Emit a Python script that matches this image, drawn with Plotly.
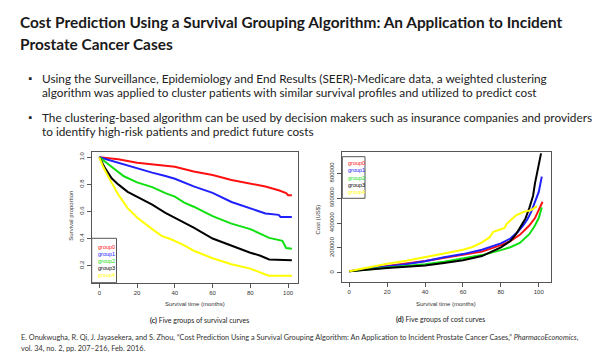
import plotly.graph_objects as go

W, H = 602, 355

# ---------------- data: survival curves (panel c) ----------------
surv_groups = ["group0", "group1", "group2", "group3", "group4"]
surv_colors = ["#ff1010", "#2020ff", "#10e010", "#000000", "#ffff00"]

surv_t_g0 = [0, 5, 10, 20, 30, 40, 50, 60, 70, 80, 88, 95, 99, 100, 102]
surv_v_g0 = [1.0, 0.995, 0.985, 0.96, 0.945, 0.93, 0.895, 0.87, 0.833, 0.808, 0.784, 0.757, 0.735, 0.72, 0.72]

surv_t_g1 = [0, 5, 10, 20, 28, 35, 40, 50, 60, 70, 80, 85, 88, 95, 96, 102]
surv_v_g1 = [1.0, 0.98, 0.956, 0.915, 0.887, 0.862, 0.842, 0.785, 0.737, 0.67, 0.62, 0.60, 0.585, 0.575, 0.56, 0.56]

surv_t_g2 = [0, 3, 8, 13, 20, 28, 35, 40, 45, 50, 60, 70, 80, 90, 97, 99, 102]
surv_v_g2 = [1.0, 0.968, 0.918, 0.86, 0.815, 0.78, 0.735, 0.71, 0.665, 0.635, 0.565, 0.51, 0.47, 0.405, 0.383, 0.33, 0.325]

surv_t_g3 = [0, 3, 6.5, 10, 15, 20, 28, 35, 40, 45, 50, 60, 70, 80, 85, 90, 102]
surv_v_g3 = [1.0, 0.92, 0.845, 0.80, 0.745, 0.71, 0.65, 0.59, 0.555, 0.515, 0.48, 0.40, 0.345, 0.295, 0.275, 0.245, 0.24]

surv_t_g4 = [0, 2, 5, 8, 10, 15, 20, 28, 33, 38, 45, 50, 60, 70, 80, 88, 90, 102]
surv_v_g4 = [1.0, 0.93, 0.85, 0.77, 0.725, 0.625, 0.555, 0.47, 0.42, 0.395, 0.35, 0.31, 0.255, 0.21, 0.178, 0.135, 0.125, 0.125]

surv_xticks = [0, 20, 40, 60, 80, 100]
surv_yticks = [0.2, 0.4, 0.6, 0.8, 1.0]
surv_yticklabels = ["0.2", "0.4", "0.6", "0.8", "1.0"]

# ---------------- data: cost curves (panel d) ----------------
cost_t_g0 = [0, 10, 20, 30, 40, 50, 60, 70, 80, 85, 90, 95, 98, 100, 102]
cost_v_g0 = [12000, 35000, 55000, 75000, 95000, 120000, 142000, 170000, 222000, 255000, 305000, 380000, 440000, 510000, 571000]

cost_t_g1 = [0, 10, 20, 30, 40, 50, 60, 70, 80, 85, 89, 92, 94, 96, 98, 100, 101.6]
cost_v_g1 = [12000, 33000, 50000, 68000, 92000, 125000, 150000, 185000, 236000, 275000, 330000, 385000, 430000, 490000, 570000, 650000, 773000]

cost_t_g2 = [0, 10, 20, 30, 40, 50, 60, 70, 80, 85, 90, 95, 98, 100, 101.6]
cost_v_g2 = [12000, 30000, 42000, 55000, 68000, 88000, 112000, 142000, 182000, 205000, 240000, 310000, 380000, 440000, 526000]

cost_t_g3 = [0, 10, 20, 30, 40, 50, 60, 70, 80, 85, 88, 91, 93, 95, 97, 98, 99, 100, 101.2]
cost_v_g3 = [12000, 28000, 38000, 48000, 58000, 78000, 100000, 134000, 204000, 255000, 310000, 385000, 437000, 520000, 620000, 719000, 790000, 860000, 960000]

cost_t_g4 = [0, 10, 20, 30, 40, 50, 60, 65, 70, 74, 76, 80, 82, 83, 86, 88, 92, 96, 99]
cost_v_g4 = [12000, 45000, 72000, 97000, 123000, 155000, 185000, 207000, 245000, 284000, 330000, 349000, 360000, 392000, 437000, 462000, 490000, 504000, 536000]

cost_xticks = [0, 20, 40, 60, 80, 100]
cost_yticks = [0, 200000, 400000, 600000, 800000]
cost_yticklabels = ["0", "200000", "400000", "600000", "800000"]

# ---------------- slide texts ----------------
title_lines = ["Cost Prediction Using a Survival Grouping Algorithm: An Application to Incident",
               "Prostate Cancer Cases"]
bullet1 = ["Using the Surveillance, Epidemiology and End Results (SEER)-Medicare data, a weighted clustering",
           "algorithm was applied to cluster patients with similar survival profiles and utilized to predict cost"]
bullet2 = ["The clustering-based algorithm can be used by decision makers such as insurance companies and providers",
           "to identify high-risk patients and predict future costs"]
caption_c = "<b>(c)</b> Five groups of survival curves"
caption_d = "<b>(d)</b> Five groups of cost curves"
citation = ["E. Onukwugha, R. Qi, J. Jayasekera, and S. Zhou, \u201cCost Prediction Using a Survival Grouping Algorithm: An Application to Incident Prostate Cancer Cases,\u201d <i>PharmacoEconomics</i>,",
            "vol. 34, no. 2, pp. 207\u2013216, Feb. 2016."]


def px(x):
    return x / W


def py(y):
    return 1 - y / H


fig = go.Figure()

surv_t = [surv_t_g0, surv_t_g1, surv_t_g2, surv_t_g3, surv_t_g4]
surv_v = [surv_v_g0, surv_v_g1, surv_v_g2, surv_v_g3, surv_v_g4]
for name, col, tt, vv in zip(surv_groups, surv_colors, surv_t, surv_v):
    fig.add_trace(go.Scatter(x=tt, y=vv, mode="lines", name=name, showlegend=False,
                             line=dict(color=col, width=2), xaxis="x", yaxis="y"))

cost_t = [cost_t_g0, cost_t_g1, cost_t_g2, cost_t_g3, cost_t_g4]
cost_v = [cost_v_g0, cost_v_g1, cost_v_g2, cost_v_g3, cost_v_g4]
for name, col, tt, vv in zip(surv_groups, surv_colors, cost_t, cost_v):
    fig.add_trace(go.Scatter(x=tt, y=vv, mode="lines", name=name, showlegend=False,
                             line=dict(color=col, width=2), xaxis="x2", yaxis="y2"))

tickfont = dict(family="Liberation Sans, Arial", size=6, color="#333")
axis_common = dict(showline=True, mirror=True, linecolor="#555", linewidth=1,
                   ticks="outside", ticklen=4, tickcolor="#555", tickwidth=1,
                   showgrid=False, zeroline=False, automargin=False, tickfont=tickfont)

fig.update_layout(
    width=W, height=H, margin=dict(l=0, r=0, t=0, b=0),
    paper_bgcolor="white", plot_bgcolor="white", showlegend=False,
    xaxis=dict(domain=[px(91.7), px(297.7)], range=[-4.06, 105.1], tickvals=surv_xticks,
               anchor="y", **axis_common),
    yaxis=dict(domain=[py(282.7), py(152.3)], range=[0.074, 1.037], tickvals=surv_yticks,
               ticktext=surv_yticklabels, tickangle=-90, anchor="x", **axis_common),
    xaxis2=dict(domain=[px(341.7), px(550.7)], range=[-4.0, 106.3], tickvals=cost_xticks,
                anchor="y2", **axis_common),
    yaxis2=dict(domain=[py(281.7), py(152.3)], range=[-72000, 969000], tickvals=cost_yticks,
                ticktext=cost_yticklabels, tickangle=-90, anchor="x2", **axis_common),
)

ann = []
body_font = "Lato, Noto Sans, sans-serif"
# title
ann.append(dict(text="<b>" + title_lines[0] + "</b>", x=px(18), y=py(22)))
ann.append(dict(text="<b>" + title_lines[1] + "</b>", x=px(18), y=py(44)))
for a in ann:
    a.update(font=dict(family=body_font, size=15.4, color="#1a1a1a"))

bullet_items = []
for ys, lines in ((78, bullet1), (117, bullet2)):
    bullet_items.append(dict(text="\u25aa", x=px(26), y=py(ys), font=dict(family=body_font, size=10, color="#222")))
    for i, ln in enumerate(lines):
        bullet_items.append(dict(text=ln, x=px(40), y=py(ys + 14.5 * i),
                                 font=dict(family=body_font, size=11.8, color="#222")))
ann += bullet_items

small = dict(family="Liberation Sans, Arial", size=6, color="#333")
# axis titles
ann.append(dict(text="Survival time (months)", x=px(194.7), y=py(304), xanchor="center", font=small))
ann.append(dict(text="Survival proportion", x=px(70.7), y=py(216), xanchor="center", textangle=-90, font=small))
ann.append(dict(text="Survival time (months)", x=px(446), y=py(304), xanchor="center", font=small))
ann.append(dict(text="Cost (US$)", x=px(317.5), y=py(220), xanchor="center", textangle=-90, font=small))

# captions
ann.append(dict(text=caption_c, x=px(199), y=py(320), xanchor="center",
                font=dict(family=body_font, size=7, color="#222")))
ann.append(dict(text=caption_d, x=px(440), y=py(319), xanchor="center",
                font=dict(family=body_font, size=7, color="#222")))

# citation
ann.append(dict(text=citation[0], x=px(19), y=py(337.5), font=dict(family=body_font, size=7.35, color="#333")))
ann.append(dict(text=citation[1], x=px(19), y=py(348.5), font=dict(family=body_font, size=7.35, color="#333")))

# legends
leg_font = "Liberation Sans, Arial"
for i, (name, col) in enumerate(zip(surv_groups, surv_colors)):
    ann.append(dict(text=name, x=px(95.5), y=py(246.7 + 7 * i),
                    font=dict(family=leg_font, size=5.5, color=col)))
    ann.append(dict(text=name, x=px(345.5), y=py(163.3 + 7.1 * i),
                    font=dict(family=leg_font, size=5.5, color=col)))

for a in ann:
    a.setdefault("xanchor", "left")
    a.update(xref="paper", yref="paper", yanchor="middle", showarrow=False)

fig.update_layout(annotations=ann)

shapes = [
    dict(type="rect", xref="paper", yref="paper", x0=px(91.7), x1=px(116.5), y0=py(282.7), y1=py(238.3),
         line=dict(color="#555", width=1), fillcolor="white", layer="above"),
    dict(type="rect", xref="paper", yref="paper", x0=px(342.3), x1=px(365), y0=py(198.3), y1=py(156.7),
         line=dict(color="#555", width=1), fillcolor="rgba(0,0,0,0)", layer="above"),
]
fig.update_layout(shapes=shapes)

fig.write_html("out.html", config={"displayModeBar": False},
               post_script="document.body.style.margin='0';document.body.style.padding='0';")
